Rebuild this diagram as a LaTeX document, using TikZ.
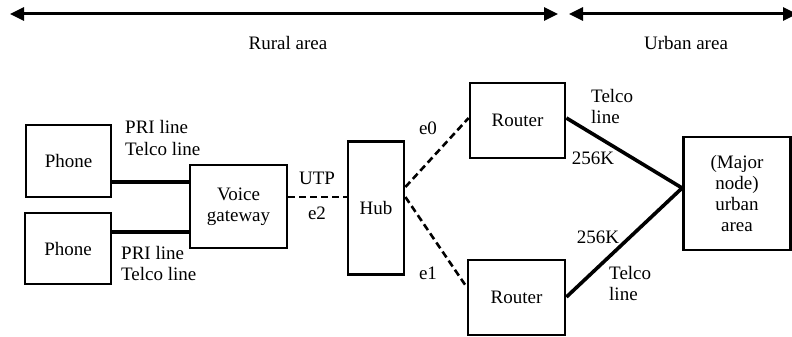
\documentclass[tikz,border=0pt]{standalone}
\usepackage{fontspec}
\setmainfont{Liberation Serif}
\usetikzlibrary{arrows.meta}
\begin{document}
\begin{tikzpicture}[x=1pt,y=-1pt,
  box/.style={draw,line width=2.8pt,align=center,inner sep=0pt},
  lbl/.style={align=left,inner sep=0pt},
  thickline/.style={line width=3.6pt},
  dashline/.style={line width=2.6pt,dash pattern=on 7pt off 4pt},
  span/.style={line width=3pt,{Triangle[length=14pt,width=13pt]}-{Triangle[length=14pt,width=13pt]}},
  every node/.style={font=\fontsize{19}{21}\selectfont}]
\useasboundingbox (0,0) rectangle (792,337);
% spans
\coordinate (r1) at (10,14);
\coordinate (r2) at (558,14);
\coordinate (u1) at (569,14);
\coordinate (u2) at (797,14);
\draw[span] (r1) -- (r2);
\draw[span] (u1) -- (u2);
\node (rural) at (288,43) {Rural area};
\node (urban) at (686,43) {Urban area};
% boxes
\node[box,minimum width=85pt,minimum height=72pt] (ph1) at (68.5,161) {Phone};
\node[box,minimum width=86pt,minimum height=71pt] (ph2) at (68,248.5) {Phone};
\node[box,minimum width=97pt,minimum height=83pt] (vg) at (238.5,206.5) {Voice\\gateway};
\node[box,minimum width=56pt,minimum height=133pt] (hub) at (376,208) {Hub};
\node[box,minimum width=95pt,minimum height=75pt] (rt1) at (517.5,120.5) {Router};
\node[box,minimum width=97pt,minimum height=75pt] (rt2) at (516.5,297.5) {Router};
\node[box,minimum width=107pt,minimum height=113pt] (maj) at (737,193.5) {(Major\\node)\\urban\\area};
% connectors
\draw[thickline] ([yshift=-21pt]ph1.east) -- ([yshift=-21pt]ph1.east -| vg.west);
\draw[thickline] ([yshift=16.5pt]ph2.east) -- ([yshift=16.5pt]ph2.east -| vg.west);
\draw[dashline] ([yshift=9.5pt]vg.east) -- ([yshift=9.5pt]vg.east -| hub.west);
\draw[dashline] ([yshift=21pt]hub.east) -- ([yshift=2.5pt]rt1.west);
\draw[dashline] ([yshift=11pt]hub.east) -- ([yshift=10.5pt]rt2.west);
\draw[thickline] ([yshift=2.5pt]rt1.east) -- ([yshift=5.5pt]maj.west);
\draw[thickline] ([yshift=0.5pt]rt2.east) -- ([yshift=5.5pt]maj.west);
% labels
\node[lbl,anchor=west] (l1) at (125,138) {PRI line\\Telco line};
\node[lbl,anchor=west] (l2) at (121,263) {PRI line\\Telco line};
\node (utp) at (317,178) {UTP};
\node (e2) at (317,213) {e2};
\node (e0) at (428,128) {e0};
\node (e1) at (428,273) {e1};
\node[lbl,anchor=west] (t1) at (591,107) {Telco\\line};
\node (k1) at (593,158) {256K};
\node (k2) at (598,237) {256K};
\node[lbl,anchor=west] (t2) at (609,283) {Telco\\line};
\end{tikzpicture}
\end{document}
